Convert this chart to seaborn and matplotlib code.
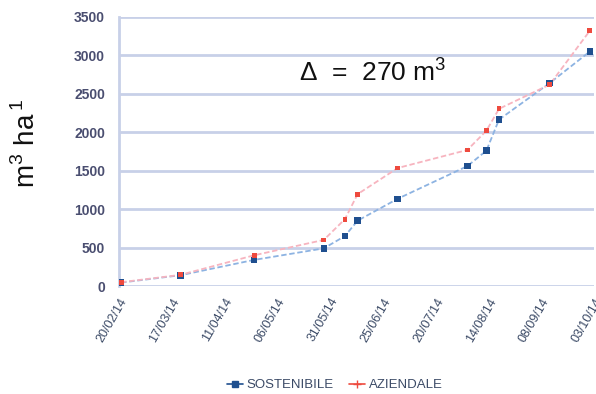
import matplotlib
matplotlib.use("Agg")
import matplotlib.pyplot as plt
import matplotlib.dates as mdates
import numpy as np
import pandas as pd
import seaborn as sns

# Cumulative irrigation volumes (m3/ha) by date
dates_sost = ["2014-02-21", "2014-03-21", "2014-04-25", "2014-05-28", "2014-06-07",
              "2014-06-13", "2014-07-02", "2014-08-04", "2014-08-13", "2014-08-19",
              "2014-09-12", "2014-10-01"]
sostenibile = [45, 140, 340, 490, 650, 850, 1135, 1560, 1760, 2165, 2640, 3050]

dates_az = ["2014-02-21", "2014-03-21", "2014-04-25", "2014-05-28", "2014-06-07",
            "2014-06-13", "2014-07-02", "2014-08-04", "2014-08-13", "2014-08-19",
            "2014-09-12", "2014-10-01"]
aziendale = [50, 145, 400, 600, 870, 1195, 1535, 1770, 2020, 2305, 2620, 3320]

tick_dates = ["2014-02-20", "2014-03-17", "2014-04-11", "2014-05-06", "2014-05-31",
              "2014-06-25", "2014-07-20", "2014-08-14", "2014-09-08", "2014-10-03"]
y_ticks = [0, 500, 1000, 1500, 2000, 2500, 3000, 3500]

df = pd.concat([
    pd.DataFrame({"data": pd.to_datetime(dates_sost), "volume": sostenibile, "serie": "SOSTENIBILE"}),
    pd.DataFrame({"data": pd.to_datetime(dates_az), "volume": aziendale, "serie": "AZIENDALE"}),
])

sns.set_style("white")
plt.rcParams["font.family"] = ["Liberation Sans", "DejaVu Sans"]
plt.rcParams["mathtext.fontset"] = "custom"
plt.rcParams["mathtext.rm"] = "Liberation Sans"

fig = plt.figure(figsize=(5.96, 3.94), dpi=100)
ax = fig.add_axes([0.1997, 0.274, 0.797, 0.683])

grid_col = "#c8d0e8"
line_cols = {"SOSTENIBILE": "#8db3e2", "AZIENDALE": "#f7b4bf"}
mark_cols = {"SOSTENIBILE": "#1f4f8f", "AZIENDALE": "#ee4a3e"}

for s in ["SOSTENIBILE", "AZIENDALE"]:
    sub = df[df["serie"] == s]
    sns.lineplot(data=sub, x="data", y="volume", ax=ax, color=line_cols[s],
                 linewidth=1.3, linestyle=(0, (3, 1.5)), zorder=3, legend=False)
    sns.scatterplot(data=sub, x="data", y="volume", ax=ax, color=mark_cols[s],
                    marker="s", s=22 if s == "SOSTENIBILE" else 12,
                    edgecolor="none", zorder=4, legend=False)

ticks = pd.to_datetime(tick_dates)
ax.set_xlim(ticks[0], ticks[-1])
ax.set_ylim(0, 3500)
ax.set_xticks(ticks)
ax.xaxis.set_major_formatter(mdates.DateFormatter("%d/%m/%y"))
ax.set_yticks(y_ticks)
ax.grid(axis="y", color=grid_col, linewidth=2)
ax.set_axisbelow(True)
for side in ["top", "right", "bottom"]:
    ax.spines[side].set_visible(False)
ax.spines["left"].set_color(grid_col)
ax.spines["left"].set_linewidth(2)

ax.tick_params(axis="x", length=5, width=2, color=grid_col, labelsize=9,
               labelcolor="#3b4a66", pad=2)
ax.tick_params(axis="y", length=0, labelsize=10, labelcolor="#4a4e70", pad=10)
for lab in ax.get_yticklabels():
    lab.set_fontweight("bold")
plt.setp(ax.get_xticklabels(), rotation=60, ha="right", rotation_mode="anchor")

ax.set_xlabel("")
ax.set_ylabel("m$^3$ ha$^{\\,1}$", fontsize=20, color="#111111")
ax.yaxis.set_label_coords(-0.165, 0.53)

ax.text(0.379, 0.795, "Δ  =  270 m$^3$", transform=ax.transAxes, fontsize=19,
        color="#111111", ha="left", va="center")

handles = [
    plt.Line2D([], [], color=mark_cols["SOSTENIBILE"], marker="s", markersize=5,
               linestyle="-", linewidth=1.2),
    plt.Line2D([], [], color=mark_cols["AZIENDALE"], marker="+", markersize=6,
               linestyle="-", linewidth=1.2),
]
fig.legend(handles, ["SOSTENIBILE", "AZIENDALE"], loc="center", bbox_to_anchor=(0.562, 0.022),
           ncol=2, frameon=False, fontsize=9.5, handlelength=1.2, handletextpad=0.3,
           columnspacing=1.2, labelcolor="#3b4a66")

fig.savefig("out.png", dpi=100)
